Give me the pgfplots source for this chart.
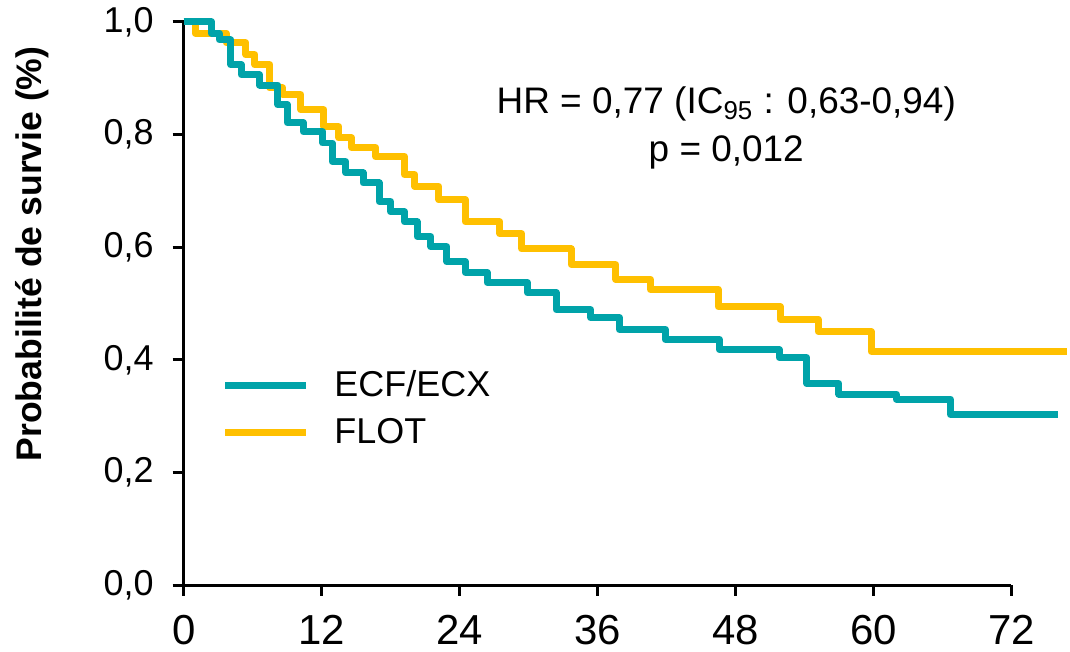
\documentclass[border=0pt]{standalone}
\usepackage{fontspec}
\setmainfont{Liberation Sans}
\usepackage{pgfplots}
\pgfplotsset{compat=1.18}

\definecolor{ecf}{HTML}{00A3A9}
\definecolor{flot}{HTML}{FFC000}

\begin{document}
\begin{tikzpicture}
\begin{axis}[
    scale only axis,
    width=414.5pt,
    height=282pt,
    xmin=0, xmax=72,
    ymin=0, ymax=1,
    clip=false,
    axis lines=left,
    axis line style={-, line width=1.5pt, black},
    tick align=outside,
    major tick length=5.5pt,
    tick style={line width=1.5pt, black},
    xtick={0,12,24,36,48,60,72},
    ytick={0,0.2,0.4,0.6,0.8,1},
    /pgf/number format/assume math mode=true,
    yticklabel style={font=\fontsize{18}{18}\selectfont, xshift=-6pt,
        /pgf/number format/.cd, use comma, fixed, fixed zerofill, precision=1},
    xticklabel style={font=\fontsize{21}{21}\selectfont, yshift=-6pt},
    ylabel={Probabilité de survie (\%)},
    ylabel style={at={(axis description cs:-0.1834,0.588)}, anchor=center,
        font=\bfseries\fontsize{17.8}{20}\selectfont},
    legend image code/.code={\draw[#1] (0pt,0pt) -- (40.5pt,0pt);},
    reverse legend,
    legend cell align=left,
    legend style={at={(axis cs:3.3,0.313)}, anchor=west, draw=none, fill=none,
        inner sep=0pt, outer sep=0pt, row sep=9.3pt,
        font=\fontsize{18}{20}\selectfont,
        nodes={inner sep=0pt},
        /tikz/every odd column/.append style={column sep=12.5pt}},
]
\path (axis description cs:-0.222,-0.1099) rectangle (axis description cs:1.0688,1.039);

\addplot[const plot, flot, line width=3.5pt, line join=round] coordinates {
    (0,1.0) (1.0,0.980) (3.7,0.963) (5.4,0.942) (6.2,0.924) (7.5,0.883)
    (8.6,0.871) (10.2,0.844) (12.2,0.814) (13.5,0.794) (14.6,0.777)
    (16.7,0.761) (19.2,0.729) (20.1,0.708) (22.2,0.684) (24.5,0.645)
    (27.5,0.624) (29.4,0.597) (33.7,0.569) (37.6,0.543) (40.6,0.525)
    (46.5,0.494) (51.9,0.472) (55.2,0.450) (59.8,0.415) (76.8,0.415)
};
\addlegendentry{FLOT}
\addplot[const plot, ecf, line width=3.5pt, line join=round] coordinates {
    (0,1.0) (2.4,0.980) (3.1,0.968) (4.1,0.924) (5.0,0.906) (6.6,0.888)
    (8.2,0.853) (9.0,0.821) (10.4,0.805) (12.1,0.785) (12.9,0.752)
    (14.1,0.732) (15.6,0.714) (17.0,0.681) (18.0,0.663) (19.2,0.645)
    (20.3,0.619) (21.5,0.601) (22.9,0.574) (24.5,0.555) (26.4,0.537)
    (29.9,0.519) (32.4,0.489) (35.4,0.475) (37.9,0.454) (41.9,0.436)
    (46.6,0.418) (51.8,0.404) (54.2,0.358) (57.0,0.339) (62.0,0.330)
    (66.7,0.303) (76.1,0.303)
};
\addlegendentry{ECF/ECX}

\node[align=center, font=\fontsize{18.5}{24}\selectfont] at (axis cs:47.2,0.812)
    {HR = 0,77 (IC\textsubscript{95} : 0,63-0,94)\\p = 0,012};
\end{axis}
\end{tikzpicture}
\end{document}
